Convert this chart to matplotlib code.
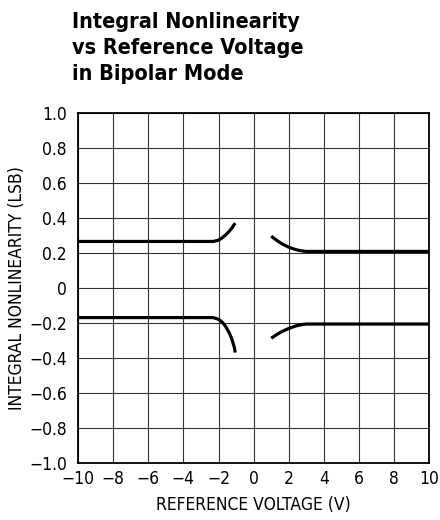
import numpy as np
import matplotlib.pyplot as plt

plt.rcParams['font.family'] = ['DejaVu Sans']
plt.rcParams['font.stretch'] = 'condensed'

# readings (x in V, y in LSB)
upper_left_x = [-10, -4, -2.3, -2.0, -1.8, -1.6, -1.4, -1.25, -1.05]
upper_left_y = [0.265, 0.265, 0.265, 0.272, 0.285, 0.302, 0.322, 0.340, 0.370]
lower_left_x = [-10, -4, -2.3, -2.0, -1.8, -1.6, -1.4, -1.25, -1.1, -1.05]
lower_left_y = [-0.170, -0.170, -0.170, -0.180, -0.195, -0.220, -0.255, -0.290, -0.340, -0.370]
upper_right_x = [1.0, 1.3, 1.6, 2.0, 2.4, 2.8, 3.0, 6, 10]
upper_right_y = [0.295, 0.272, 0.252, 0.232, 0.218, 0.210, 0.208, 0.208, 0.208]
lower_right_x = [1.0, 1.3, 1.6, 2.0, 2.4, 2.8, 3.0, 6, 10]
lower_right_y = [-0.288, -0.268, -0.250, -0.232, -0.218, -0.209, -0.207, -0.207, -0.207]

xticks = [-10, -8, -6, -4, -2, 0, 2, 4, 6, 8, 10]
yticks = [-1.0, -0.8, -0.6, -0.4, -0.2, 0, 0.2, 0.4, 0.6, 0.8, 1.0]
ytick_labels = ['\u22121.0', '\u22120.8', '\u22120.6', '\u22120.4', '\u22120.2', '0',
                '0.2', '0.4', '0.6', '0.8', '1.0']
xtick_labels = [str(v).replace('-', '\u2212') for v in xticks]

fig = plt.figure(figsize=(4.4, 5.2), dpi=100)
ax = fig.add_axes([0.177, 0.110, 0.799, 0.673])

for xs, ys in [(upper_left_x, upper_left_y), (lower_left_x, lower_left_y),
               (upper_right_x, upper_right_y), (lower_right_x, lower_right_y)]:
    ax.plot(xs, ys, color='black', lw=2.3, solid_capstyle='butt', zorder=3)

ax.set_xlim(-10, 10)
ax.set_ylim(-1.0, 1.0)
ax.set_xticks(xticks)
ax.set_xticklabels(xtick_labels)
ax.set_yticks(yticks)
ax.set_yticklabels(ytick_labels)
ax.tick_params(length=0, labelsize=12.5, colors='black')
ax.tick_params(axis='y', pad=8)
ax.tick_params(axis='x', pad=5)
ax.grid(True, color='#333333', lw=0.8)
for s in ax.spines.values():
    s.set_linewidth(1.3)
    s.set_color('black')

ax.set_xlabel('REFERENCE VOLTAGE (V)', fontsize=12.5, labelpad=6)
ax.set_ylabel('INTEGRAL NONLINEARITY (LSB)', fontsize=12.5, labelpad=2)

fig.text(0.164, 0.976, 'Integral Nonlinearity\nvs Reference Voltage\nin Bipolar Mode',
         ha='left', va='top', fontsize=15.5, fontweight='bold', linespacing=1.36)

fig.savefig('out.png', dpi=100)
